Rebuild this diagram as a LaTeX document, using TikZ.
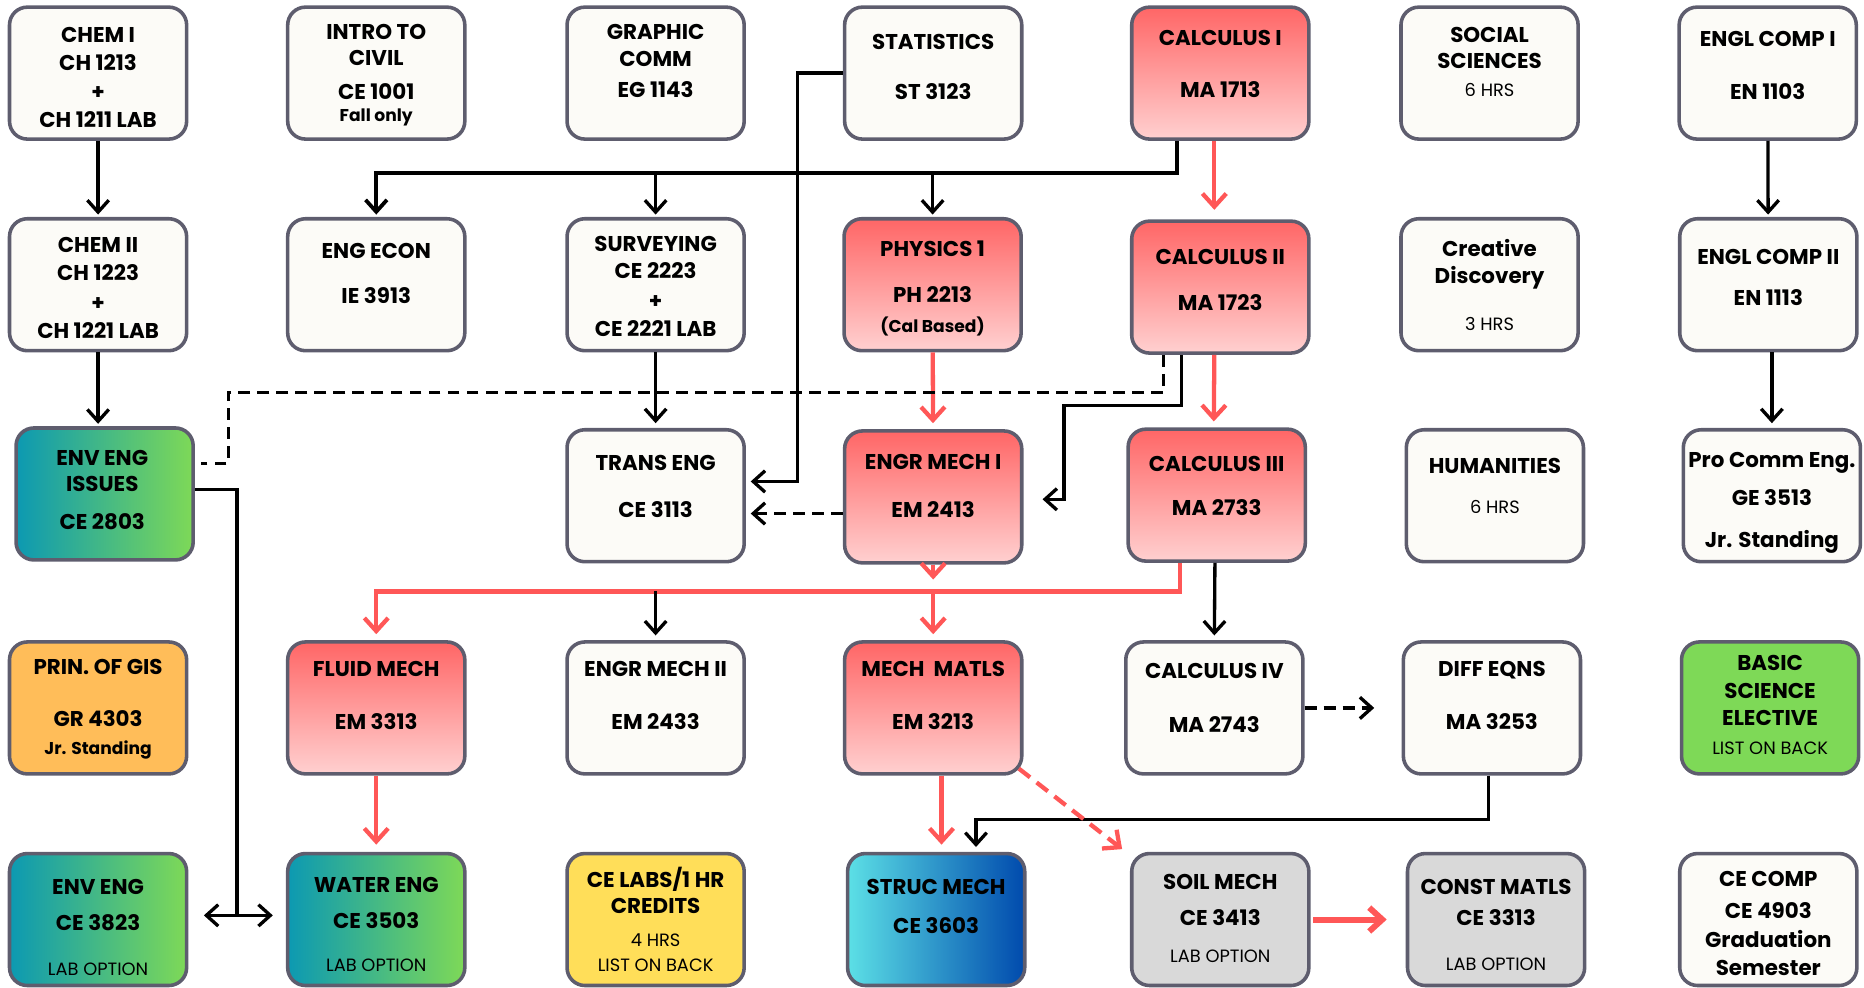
\documentclass[tikz,border=0pt]{standalone}
\usepackage{fontspec}
\setmainfont{Poppins}
\usetikzlibrary{arrows.meta,calc}

\definecolor{edge}{HTML}{5E5D6E}
\definecolor{paper}{HTML}{FCFBF7}
\definecolor{redtop}{HTML}{FF6666}
\definecolor{redbot}{HTML}{FFD0D0}
\definecolor{tealc}{HTML}{0C99B2}
\definecolor{limec}{HTML}{7ED957}
\definecolor{orangec}{HTML}{FFBD59}
\definecolor{yellowc}{HTML}{FFDE59}
\definecolor{grayc}{HTML}{D9D9D9}
\definecolor{cyanc}{HTML}{5CE0E6}
\definecolor{navyc}{HTML}{004AAD}
\definecolor{hotred}{HTML}{FF5757}

\newcommand{\lite}{\mdseries\fontsize{7.5}{9}\selectfont}
\newcommand{\smb}{\fontsize{7.2}{8}\selectfont}

\tikzset{every picture/.style={line width=0.75pt},
  course/.style={draw=edge, line width=1.5pt, rounded corners=7.5pt, minimum width=74.5pt, minimum height=55.5pt, inner sep=0pt, fill=paper},
  redgrad/.style={top color=redtop, bottom color=redbot},
  tealgrad/.style={left color=tealc, right color=limec},
  bluegrad/.style={left color=cyanc, right color=navyc},
  lbl/.style={align=center, inner sep=0pt, font=\bfseries\fontsize{9}{11}\selectfont},
  conn/.style={line width=1.4pt, shorten >=1pt, -{Straight Barb[length=5pt,width=9pt]}},
  dashconn/.style={conn, dash pattern=on 5pt off 3pt},
  dashline/.style={line width=1.4pt, dash pattern=on 5pt off 3pt},
  hot/.style={draw=hotred, line width=1.8pt, shorten >=1pt, -{Straight Barb[length=5.5pt,width=10pt]}},
  hotdash/.style={hot, dash pattern=on 6pt off 3.5pt}
}

\begin{document}
\begin{tikzpicture}[x=0.5pt,y=0.5pt,yscale=-1,xscale=1]
\useasboundingbox (0,0) rectangle (1568,831);

%Shape: Rounded Rect -- row 1
\node[course] (chemI) at (82.5,61.5) {};
\node[course] (intro) at (316.5,61.5) {};
\node[course] (graphic) at (551.5,61.5) {};
\node[course] (stats) at (785,61.5) {};
\node[course, redgrad] (calcI) at (1026.5,61.5) {};
\node[course] (social) at (1253,61.5) {};
\node[course] (englI) at (1487,61.5) {};
%Shape: Rounded Rect -- row 2
\node[course] (chemII) at (82.5,239.5) {};
\node[course] (econ) at (316.5,239.5) {};
\node[course] (survey) at (551.5,239.5) {};
\node[course, redgrad] (phys) at (784.5,239.5) {};
\node[course, redgrad] (calcII) at (1026.5,241.5) {};
\node[course] (creative) at (1253,239.5) {};
\node[course] (englII) at (1487.5,239.5) {};
%Shape: Rounded Rect -- row 3
\node[course, tealgrad] (envIss) at (88,415.5) {};
\node[course] (trans) at (551.5,417) {};
\node[course, redgrad] (emI) at (785,418) {};
\node[course, redgrad] (calcIII) at (1023.5,416.5) {};
\node[course] (human) at (1257.5,417) {};
\node[course] (procomm) at (1490.5,417) {};
%Shape: Rounded Rect -- row 4
\node[course, fill=orangec] (gis) at (82.5,595.5) {};
\node[course, redgrad] (fluid) at (316.5,595.5) {};
\node[course] (emII) at (551.5,595.5) {};
\node[course, redgrad] (matls) at (785,595.5) {};
\node[course] (calcIV) at (1021.5,595.5) {};
\node[course] (diffeq) at (1255,595.5) {};
\node[course, fill=limec] (basic) at (1489,595.5) {};
%Shape: Rounded Rect -- row 5
\node[course, tealgrad] (envLab) at (82.5,773.5) {};
\node[course, tealgrad] (water) at (316.5,773.5) {};
\node[course, fill=yellowc] (ceLabs) at (551.5,773.5) {};
\node[course, bluegrad] (struc) at (787.5,773.5) {};
\node[course, fill=grayc] (soil) at (1026.5,773.5) {};
\node[course, fill=grayc] (constM) at (1258.5,773.5) {};
\node[course] (ceComp) at (1487.5,773.5) {};

% Text Node
\node[lbl] (chemIT) at (82.5,65) {CHEM I\\[1pt]CH 1213\\[1pt]+\\[1pt]CH 1211 LAB};
% Text Node
\node[lbl] (introT) at (316.5,63.5) {INTRO TO\\CIVIL\\[3pt]CE 1001\\[-1.5pt]{\smb Fall only}};
% Text Node
\node[lbl] (graphicT) at (551.5,51.5) {GRAPHIC\\[0.5pt]COMM\\[2pt]EG 1143};
% Text Node
\node[lbl] (statsT) at (785,56) {STATISTICS\\[10pt]ST 3123};
% Text Node
\node[lbl] (calcIT) at (1026.5,54) {CALCULUS I\\[11pt]MA 1713};
% Text Node
\node[lbl] (socialT) at (1253,52) {SOCIAL\\SCIENCES\\[1pt]{\lite 6 HRS}};
% Text Node
\node[lbl] (englIT) at (1487,55) {ENGL COMP I\\[11pt]EN 1103};

% Text Node
\node[lbl] (chemIIT) at (82.5,242) {CHEM II\\[1pt]CH 1223\\[1.5pt]+\\[0.5pt]CH 1221 LAB};
% Text Node
\node[lbl] (econT) at (316.5,230) {ENG ECON\\[8pt]IE 3913};
% Text Node
\node[lbl] (surveyT) at (551.5,241) {SURVEYING\\[0.5pt]CE 2223\\[1.5pt]+\\[1pt]CE 2221 LAB};
% Text Node
\node[lbl] (physT) at (784.5,243) {PHYSICS 1\\[8pt]PH 2213\\[2pt]{\smb (Cal Based)}};
% Text Node
\node[lbl] (calcIIT) at (1026.5,235.5) {CALCULUS II\\[8.5pt]MA 1723};
% Text Node
\node[lbl] (creativeT) at (1253,240) {Creative\\Discovery\\[9pt]{\lite 3 HRS}};
% Text Node
\node[lbl] (englIIT) at (1487.5,233.5) {ENGL COMP II\\[6.5pt]EN 1113};

% Text Node
\node[lbl] (envIssT) at (86,412) {ENV ENG\\ISSUES\\[5pt]CE 2803};
% Text Node
\node[lbl] (transT) at (551.5,409) {TRANS ENG\\[9pt]CE 3113};
% Text Node
\node[lbl] (emIT) at (785,409) {ENGR MECH I\\[9pt]EM 2413};
% Text Node
\node[lbl] (calcIIIT) at (1023.5,408.5) {CALCULUS III\\[7.5pt]MA 2733};
% Text Node
\node[lbl] (humanT) at (1257.5,409) {HUMANITIES\\[6pt]{\lite 6 HRS}};
% Text Node
\node[lbl] (procommT) at (1490.5,423) {Pro Comm Eng.\\[5pt]GE 3513\\[7pt]Jr. Standing};

% Text Node
\node[lbl] (gisT) at (82.5,596.5) {PRIN. OF GIS\\[11pt]GR 4303\\[0.5pt]{\smb Jr. Standing}};
% Text Node
\node[lbl] (fluidT) at (316.5,585) {FLUID MECH\\[11pt]EM 3313};
% Text Node
\node[lbl] (emIIT) at (551.5,585) {ENGR MECH II\\[11pt]EM 2433};
% Text Node
\node[lbl] (matlsT) at (785,585) {MECH~~MATLS\\[11pt]EM 3213};
% Text Node
\node[lbl] (calcIVT) at (1021.5,587) {CALCULUS IV\\[12pt]MA 2743};
% Text Node
\node[lbl] (diffeqT) at (1255,585) {DIFF EQNS\\[11pt]MA 3253};
% Text Node
\node[lbl] (basicT) at (1489,593) {BASIC\\[0.5pt]SCIENCE\\[0.5pt]ELECTIVE\\[1pt]{\lite LIST ON BACK}};

% Text Node
\node[lbl] (envLabT) at (82.5,780) {ENV ENG\\[4pt]CE 3823\\[8pt]{\lite LAB OPTION}};
% Text Node
\node[lbl] (waterT) at (316.5,777.5) {WATER ENG\\[4.5pt]CE 3503\\[7pt]{\lite LAB OPTION}};
% Text Node
\node[lbl] (ceLabsT) at (551.5,773.5) {CE LABS/1 HR\\CREDITS\\[3pt]{\lite 4 HRS}\\[-0.5pt]{\lite LIST ON BACK}};
% Text Node
\node[lbl] (strucT) at (787.5,762.5) {STRUC MECH\\[5.5pt]CE 3603};
% Text Node
\node[lbl] (soilT) at (1026.5,772.5) {SOIL MECH\\[4pt]CE 3413\\[4.5pt]{\lite LAB OPTION}};
% Text Node
\node[lbl] (constMT) at (1258.5,778) {CONST MATLS\\[2pt]CE 3313\\[8pt]{\lite LAB OPTION}};
% Text Node
\node[lbl] (ceCompT) at (1487.5,776.5) {CE COMP\\[2.5pt]CE 4903\\[1.5pt]Graduation\\[0.5pt]Semester};

%Straight Lines -- chemistry
\draw[conn] (chemI) -- (chemII);
\draw[conn] (chemII.south) -- (chemII.south |- envIss.north);
%Straight Lines -- calculus I tree
\coordinate (bus) at ($(econ.north)+(0,-37)$);
\draw[conn, line width=1.6pt] ($(calcI.south)+(-36.5,0)$) |- (bus) -- (econ.north);
\draw[conn] (bus -| survey.north) -- (survey.north);
\draw[conn] (bus -| phys.north) -- (phys.north);
\draw[hot, shorten >=4pt] ($(calcI.south)+(-5,0)$) -- ($(calcII.north)+(-5,0)$);
%Straight Lines -- statistics
\draw[conn, shorten >=2pt] (stats.west) -- ($(stats.west)+(-38,0)$) |- ($(trans.east)+(0,-12)$);
\draw[conn, shorten >=2pt] (survey) -- (trans);
\draw[hot, shorten >=2.5pt] (phys) -- (emI);
%Straight Lines -- calculus II
\draw[hot, shorten >=2.5pt] ($(calcII.south)+(-5,0)$) -- ($(calcIII.north)+(-2.5,0)$);
\coordinate (jog) at ($(emI.east)+(34,-77)$);
\draw[conn] ($(calcII.south)+(-32.5,0)$) |- (jog) |- ($(emI.east)+(14,2)$);
\coordinate (dcorner) at ($(envIss.east)+(28,-85.5)$);
\draw[dashline] ($(calcII.south)+(-47.5,0)$) |- (dcorner) |- ($(envIss.east)+(5,-25.5)$);
\draw[dashconn, shorten >=2pt] ($(emI.west)+(0,14)$) -- ($(trans.east)+(0,15)$);
%Straight Lines -- mechanics bus
\coordinate (redbus) at ($(fluid.north)+(0,-41)$);
\draw[hot, shorten >=5pt] (emI.south) -- (emI.south |- redbus);
\draw[hot, shorten >=2.5pt] ($(calcIII.south)+(-31,0)$) |- (redbus) -- (fluid.north);
\draw[hot, shorten >=2.5pt] (redbus -| matls.north) -- (matls.north);
\draw[conn, shorten >=2pt] (redbus -| emII.north) -- (emII.north);
\draw[conn, shorten >=2pt] ($(calcIII.south)+(-1.5,0)$) -- (calcIV.north);
\draw[dashconn, shorten >=11.5pt] (calcIV) -- (diffeq);
%Straight Lines -- water and environment
\draw[hot, shorten >=3pt] (fluid) -- (water);
\coordinate (fork) at ($(envLab.east)!0.5!(water.west)+(0,-3.5)$);
\draw[conn] ($(envIss.east)+(0,-3.5)$) -| (fork) -- ($(envLab.east)+(11,-3.5)$);
\draw[conn] (fork) -- ($(water.west)+(-9,-3.5)$);
%Straight Lines -- structures and soils
\draw[hot, shorten >=3pt] ($(matls.south)+(7,0)$) -- ($(struc.north)+(4.5,0)$);
\draw[conn, shorten >=2pt] ($(diffeq.south)+(-3,0)$) |- ($(struc.north)+(33.5,-27)$) -- ($(struc.north)+(33.5,0)$);
\draw[hotdash] ($(matls.south east)+(-4,-6)$) -- ($(soil.north west)+(-5,-1)$);
\draw[hot, line width=2.5pt, shorten <=1pt, shorten >=8pt] (soil) -- (constM);
%Straight Lines -- english
\draw[conn] (englI) -- (englII);
\draw[conn, shorten >=2pt] ($(englII.south)+(3,0)$) -- (procomm.north);

\end{tikzpicture}
\end{document}
